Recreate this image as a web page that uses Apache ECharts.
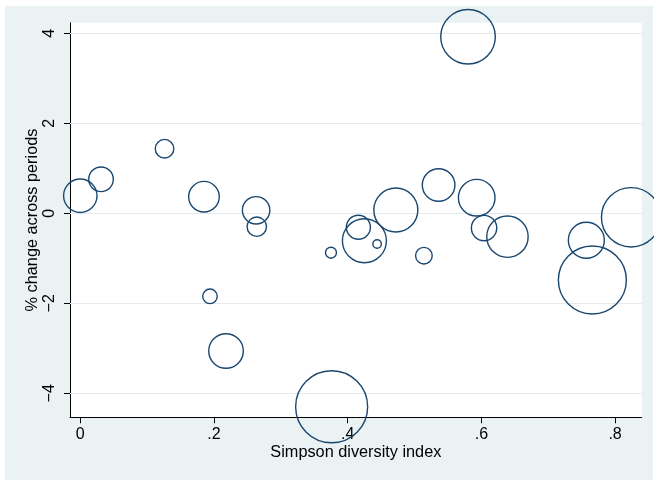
<!DOCTYPE html>
<html>
<head>
<meta charset="utf-8">
<script src="https://cdn.jsdelivr.net/npm/echarts@6/dist/echarts.min.js"></script>
<style>html,body{margin:0;padding:0;background:#fff}#c{width:654px;height:480px}</style>
</head>
<body>
<div id="c"></div>
<script>
// Simpson diversity index (x), % change across periods (y), weight (bubble area)
const simpson = [0.000, 0.031, 0.126, 0.185, 0.194, 0.218, 0.263, 0.264, 0.375, 0.376, 0.416, 0.425, 0.444, 0.472, 0.514, 0.536, 0.580, 0.593, 0.604, 0.639, 0.757, 0.766, 0.824];
const pctChange = [0.39, 0.756, 1.436, 0.369, -1.844, -3.06, 0.067, -0.298, -0.876, -4.298, -0.311, -0.609, -0.682, 0.073, -0.942, 0.629, 3.924, 0.347, -0.327, -0.52, -0.6, -1.482, -0.089];
const weight = [279, 151, 86, 234, 53, 299, 188, 94, 30, 1296, 144, 484, 18, 484, 69, 266, 745, 335, 161, 428, 324, 1156, 882];
const xTicks = [0, 0.2, 0.4, 0.6, 0.8];
const xTickLabels = ['0', '.2', '.4', '.6', '.8'];
const yTicks = [-4, -2, 0, 2, 4];
const yTickLabels = ['\u22124', '\u22122', '0', '2', '4'];

const pts = simpson.map((x, i) => [x, pctChange[i], weight[i]]);
const chart = echarts.init(document.getElementById('c'), null, {renderer: 'canvas'});
const font = 'Liberation Sans, Arial, sans-serif';
chart.setOption({
  animation: false,
  backgroundColor: '#ffffff',
  graphic: [{type: 'rect', z: -10, shape: {x: 5, y: 6, width: 648, height: 474}, style: {fill: '#EAF2F3'}}],
  grid: {left: 70, right: 12.3, top: 22.7, bottom: 62.7, show: true, backgroundColor: '#ffffff', borderWidth: 0},
  xAxis: {
    type: 'value', min: -0.0154, max: 0.8398,
    name: 'Simpson diversity index', nameLocation: 'middle', nameGap: 27, nameMoveOverlap: false,
    nameTextStyle: {fontFamily: font, fontSize: 16.3, color: '#000'},
    axisLine: {show: true, onZero: false, lineStyle: {color: '#000', width: 1}},
    axisTick: {show: true, length: 6, lineStyle: {color: '#000'}, customValues: xTicks},
    axisLabel: {customValues: xTicks, margin: 9, fontFamily: font, fontSize: 16, color: '#000',
      formatter: v => { const i = xTicks.findIndex(t => Math.abs(t - v) < 1e-9); return i >= 0 ? xTickLabels[i] : ''; }},
    splitLine: {show: false}
  },
  yAxis: {
    type: 'value', min: -4.533, max: 4.236,
    name: '% change across periods', nameLocation: 'middle', nameGap: 29, nameRotate: 90, nameMoveOverlap: false,
    nameTextStyle: {fontFamily: font, fontSize: 16.3, color: '#000'},
    axisLine: {show: true, onZero: false, lineStyle: {color: '#000', width: 1}},
    axisTick: {show: true, length: 6, lineStyle: {color: '#000'}, customValues: yTicks},
    axisLabel: {customValues: yTicks, rotate: 90, margin: 12, fontFamily: font, fontSize: 16, color: '#000',
      formatter: v => { const i = yTicks.findIndex(t => Math.abs(t - v) < 1e-9); return i >= 0 ? yTickLabels[i] : ''; }},
    splitLine: {show: false}
  },
  series: [{
    type: 'scatter',
    data: pts,
    symbol: 'circle',
    symbolSize: d => 2 * Math.sqrt(d[2]),
    z: 5,
    itemStyle: {color: 'rgba(0,0,0,0)', borderColor: '#1a476f', borderWidth: 1.4, opacity: 1},
    markLine: {
      silent: true, symbol: 'none', label: {show: false}, z: 1,
      lineStyle: {color: '#e3ebed', width: 1.2, type: 'solid', opacity: 1},
      emphasis: {disabled: true},
      data: yTicks.map(t => ({yAxis: t}))
    }
  }]
});
</script>
</body>
</html>
